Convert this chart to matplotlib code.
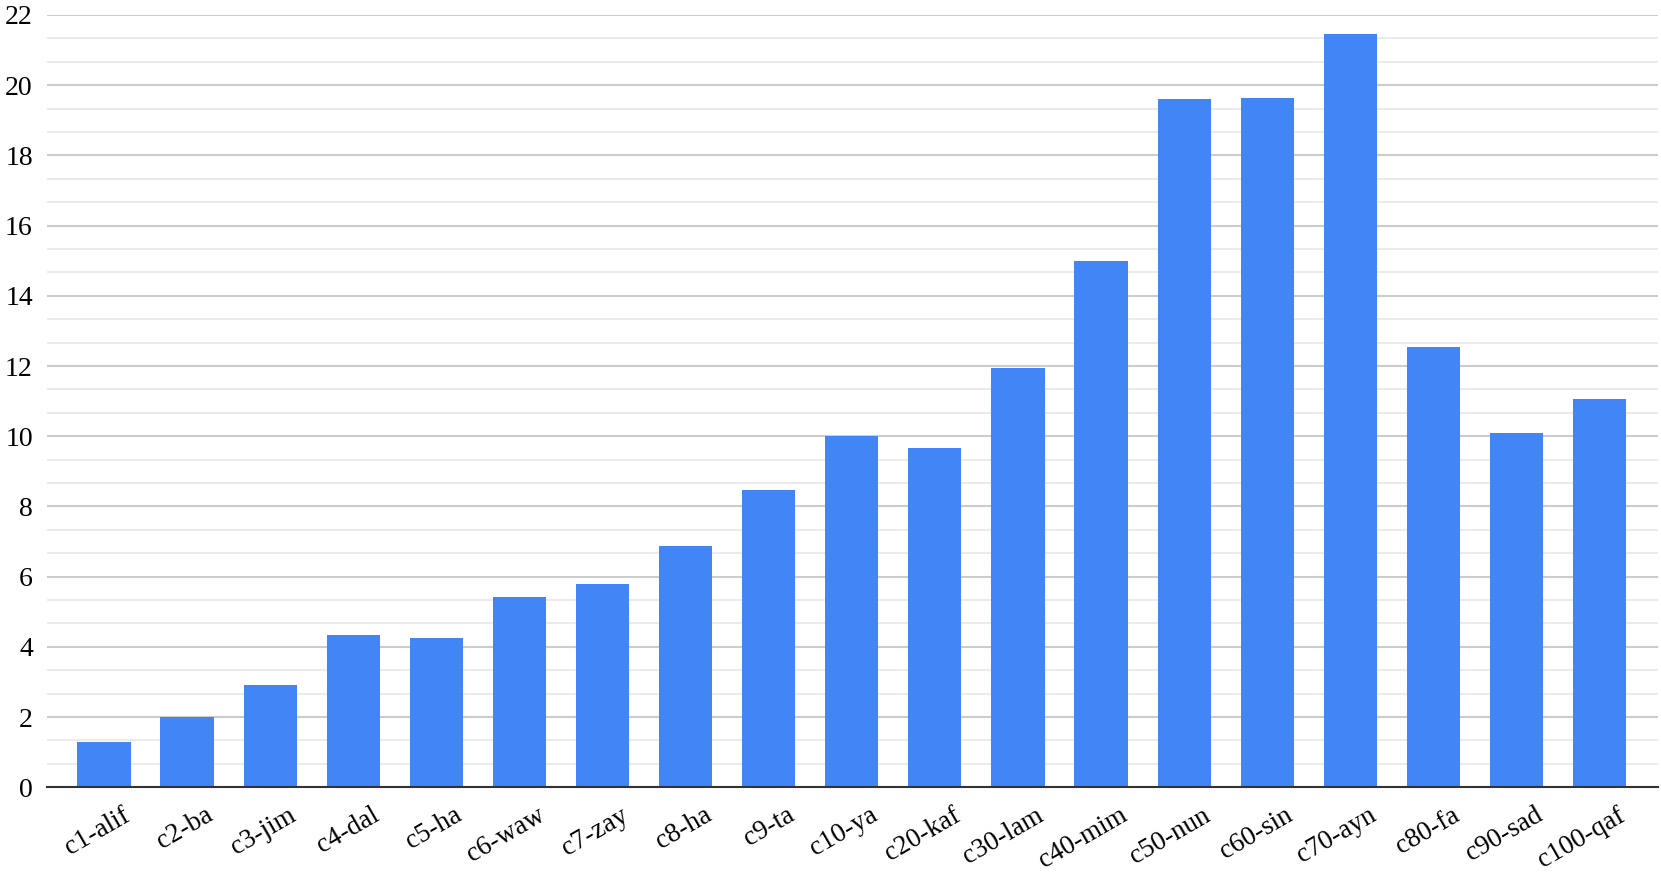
import matplotlib
matplotlib.use("Agg")
import matplotlib.pyplot as plt
import matplotlib.transforms as mtransforms
import numpy as np
from matplotlib.ticker import MultipleLocator

categories = ["c1-alif", "c2-ba", "c3-jim", "c4-dal", "c5-ha", "c6-waw", "c7-zay",
              "c8-ha", "c9-ta", "c10-ya", "c20-kaf", "c30-lam", "c40-mim", "c50-nun",
              "c60-sin", "c70-ayn", "c80-fa", "c90-sad", "c100-qaf"]
values = [1.28, 1.99, 2.9, 4.35, 4.25, 5.43, 5.79, 6.88, 8.48, 10.02, 9.66,
          11.95, 15.0, 19.61, 19.64, 21.45, 12.55, 10.08, 11.07]
y_ticks = [0, 2, 4, 6, 8, 10, 12, 14, 16, 18, 20, 22]

plt.rcParams['font.family'] = ['Liberation Serif', 'DejaVu Serif']

fig = plt.figure(figsize=(16.61, 8.77), dpi=100)
ax = fig.add_axes([0.0281, 0.1023, 0.9699, 0.8806])

x = np.arange(len(categories))
ax.bar(x, values, width=0.64, color='#4285F4', zorder=3)

ax.set_xlim(-0.69, len(categories) - 1 + 0.70)
ax.set_ylim(0, 22)
ax.set_yticks(y_ticks)
ax.yaxis.set_minor_locator(MultipleLocator(2 / 3))
ax.grid(axis='y', which='major', color='#cccccc', linewidth=1.5, zorder=0)
ax.grid(axis='y', which='minor', color='#e8e8e8', linewidth=1.2, zorder=0)

for s in ['top', 'right', 'left']:
    ax.spines[s].set_visible(False)
ax.spines['bottom'].set_color('#333333')
ax.spines['bottom'].set_linewidth(1.5)
ax.spines['bottom'].set_zorder(4)

ax.tick_params(axis='y', which='both', length=0, labelsize=20, pad=10)
ax.tick_params(axis='x', length=0, labelsize=19.5, pad=19)
ax.set_xticks(x)
ax.set_xticklabels(categories, rotation=30, ha='right', va='center',
                   rotation_mode='anchor')
offset = mtransforms.ScaledTranslation(24 / 100, 0, fig.dpi_scale_trans)
for lbl in ax.get_xticklabels():
    lbl.set_transform(lbl.get_transform() + offset)

fig.savefig('out.png', dpi=100)
